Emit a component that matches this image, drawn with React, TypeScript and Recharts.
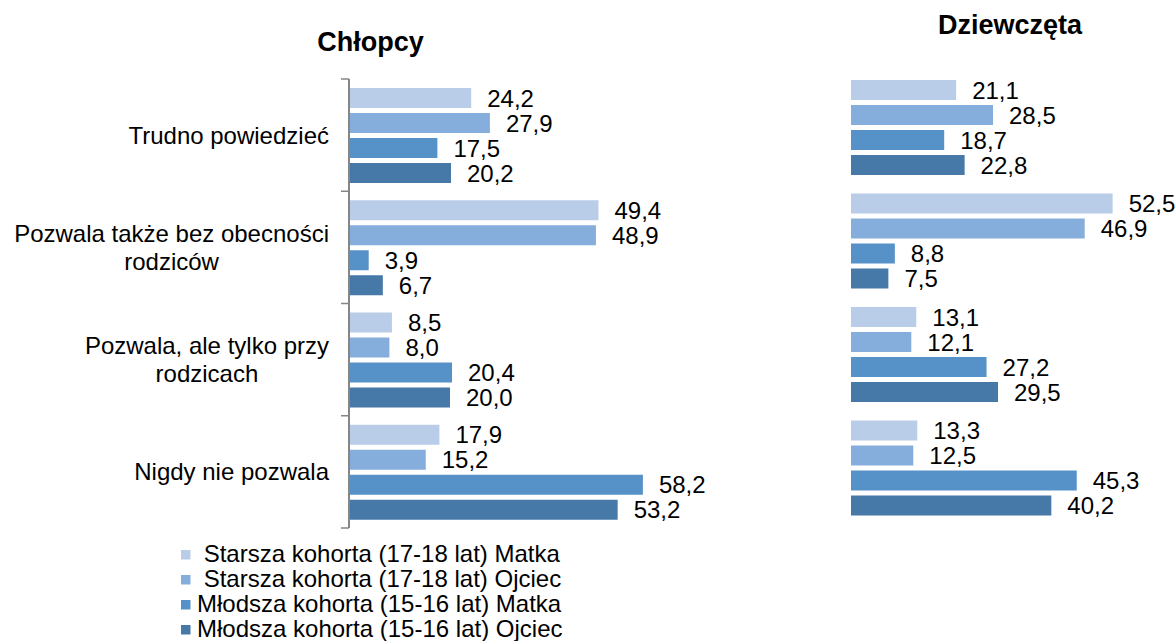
import React from "react";
import { BarChart, Bar, XAxis, YAxis, LabelList } from "recharts";

const CATEGORIES = [
  "Trudno powiedzieć",
  "Pozwala także bez obecności\nrodziców",
  "Pozwala, ale tylko przy\nrodzicach",
  "Nigdy nie pozwala",
];

const SERIES = [
  " Starsza kohorta (17-18 lat) Matka",
  " Starsza kohorta (17-18 lat) Ojciec",
  "Młodsza kohorta (15-16 lat) Matka",
  "Młodsza kohorta (15-16 lat) Ojciec",
];

const COLORS = ["#B9CDE8", "#86AEDC", "#5691C8", "#4678A8"];

// Chłopcy
const BOYS_OLD_MOTHER = [24.2, 49.4, 8.5, 17.9];
const BOYS_OLD_FATHER = [27.9, 48.9, 8.0, 15.2];
const BOYS_YOUNG_MOTHER = [17.5, 3.9, 20.4, 58.2];
const BOYS_YOUNG_FATHER = [20.2, 6.7, 20.0, 53.2];

// Dziewczęta
const GIRLS_OLD_MOTHER = [21.1, 52.5, 13.1, 13.3];
const GIRLS_OLD_FATHER = [28.5, 46.9, 12.1, 12.5];
const GIRLS_YOUNG_MOTHER = [18.7, 8.8, 27.2, 45.3];
const GIRLS_YOUNG_FATHER = [22.8, 7.5, 29.5, 40.2];

const FONT = '"Liberation Sans", Arial, Helvetica, sans-serif';
const FS = 24;
const AXIS_X = 349;
const AXIS_COLOR = "#868686";

const buildRows = (series: number[][]) =>
  CATEGORIES.map((name, i) => {
    const row: Record<string, string | number> = { name };
    series.forEach((s, k) => {
      row[`s${k}`] = s[i];
    });
    return row;
  });

const boysData = buildRows([BOYS_OLD_MOTHER, BOYS_OLD_FATHER, BOYS_YOUNG_MOTHER, BOYS_YOUNG_FATHER]);
const girlsData = buildRows([GIRLS_OLD_MOTHER, GIRLS_OLD_FATHER, GIRLS_YOUNG_MOTHER, GIRLS_YOUNG_FATHER]);

const fmt = (v: any) => Number(v).toFixed(1).replace(".", ",");

let measureCtx: CanvasRenderingContext2D | null = null;
function textWidth(s: string) {
  if (!measureCtx) {
    measureCtx = document.createElement("canvas").getContext("2d");
  }
  if (!measureCtx) return s.length * FS * 0.5;
  measureCtx.font = `${FS}px ${FONT}`;
  return measureCtx.measureText(s).width;
}

function CategoryTick(props: any) {
  const { x, y, payload, index } = props;
  const lines = String(payload.value).split("\n");
  const half = payload.offset ?? (528 - 79) / 8;
  const maxW = Math.max(...lines.map(textWidth));
  const cx = x - maxW / 2;
  const lh = 28;
  const y0 = y - ((lines.length - 1) * lh) / 2;
  return (
    <g>
      <line x1={AXIS_X - 8} x2={AXIS_X} y1={y - half} y2={y - half} stroke={AXIS_COLOR} strokeWidth={1.5} />
      {index === CATEGORIES.length - 1 && (
        <line x1={AXIS_X - 8} x2={AXIS_X} y1={y + half} y2={y + half} stroke={AXIS_COLOR} strokeWidth={1.5} />
      )}
      <text textAnchor="middle" fontFamily={FONT} fontSize={FS} fill="#000">
        {lines.map((l, i) => (
          <tspan key={i} x={cx} y={y0 + i * lh} dy="0.355em">
            {l}
          </tspan>
        ))}
      </text>
    </g>
  );
}

function renderBars() {
  return SERIES.map((s, k) => (
    <Bar key={s} dataKey={`s${k}`} name={s} fill={COLORS[k]} barSize={20} isAnimationActive={false}>
      <LabelList
        dataKey={`s${k}`}
        position="right"
        offset={16}
        formatter={fmt}
        fill="#000"
        fontSize={FS}
        fontFamily={FONT}
      />
    </Bar>
  ));
}

export default function App() {
  return (
    <div style={{ position: "absolute", left: 0, top: 0, width: 1176, height: 641, background: "#fff", overflow: "hidden" }}>
      <div style={{ position: "absolute", left: 0, top: 0 }}>
        <BarChart
          width={720}
          height={641}
          data={boysData}
          layout="vertical"
          barGap={5}
          margin={{ top: 79, right: 68, bottom: 113, left: 0 }}
        >
          <XAxis type="number" domain={[0, 60]} hide />
          <YAxis
            type="category"
            dataKey="name"
            width={AXIS_X}
            axisLine={{ stroke: AXIS_COLOR, strokeWidth: 2 }}
            tickLine={false}
            tickSize={8}
            tickMargin={12}
            interval={0}
            tick={<CategoryTick />}
          />
          {renderBars()}
        </BarChart>
      </div>

      <div style={{ position: "absolute", left: 800, top: 0 }}>
        <BarChart
          width={376}
          height={641}
          data={girlsData}
          layout="vertical"
          barGap={5}
          margin={{ top: 71, right: 26, bottom: 116, left: 51 }}
        >
          <XAxis type="number" domain={[0, 60]} hide />
          <YAxis type="category" dataKey="name" hide />
          {renderBars()}
        </BarChart>
      </div>

      <svg
        width={1176}
        height={641}
        style={{ position: "absolute", left: 0, top: 0, pointerEvents: "none" }}
      >
        <text x={370.5} y={51} textAnchor="middle" fontFamily={FONT} fontSize={27} fontWeight="bold" fill="#000">
          Chłopcy
        </text>
        <text x={1010} y={34} textAnchor="middle" fontFamily={FONT} fontSize={27} fontWeight="bold" fill="#000">
          Dziewczęta
        </text>
        {SERIES.map((s, k) => (
          <g key={s}>
            <rect x={181} y={550 + k * 25} width={9.5} height={9.5} fill={COLORS[k]} />
            <text
              x={197}
              y={561.7 + k * 25}
              fontFamily={FONT}
              fontSize={FS}
              fill="#000"
              style={{ whiteSpace: "pre" }}
            >
              {s}
            </text>
          </g>
        ))}
      </svg>
    </div>
  );
}
